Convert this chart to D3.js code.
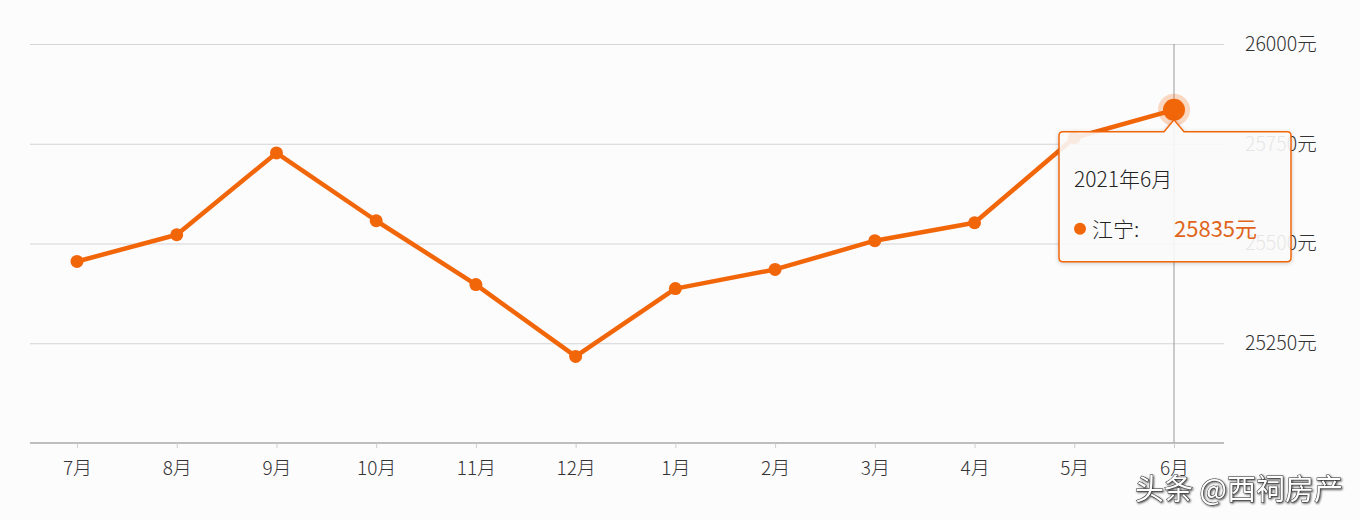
<html>
<head>
  <script src="https://d3js.org/d3.v7.min.js"></script>
  <style>
    body { margin: 0; background: #fdfcfd; font-family: "Noto Sans CJK SC", "Noto Sans", sans-serif; }
    .gridlines line { stroke: #d4d4d4; }
    .gridlines .domain { stroke: none; }
  </style>
</head>
<body>
  <svg id="chart" width="1360" height="520"></svg>
  <script>
    const months = ["7月", "8月", "9月", "10月", "11月", "12月", "1月", "2月", "3月", "4月", "5月", "6月"];
    const prices = [25455, 25522, 25727, 25557, 25397, 25217, 25387, 25435, 25507, 25552, 25765, 25835];
    const yTicks = [25250, 25500, 25750, 26000];

    const svg = d3.select("svg#chart");
    const margin = { top: 44, left: 30, right: 136, bottom: 77 };
    const chartWidth = 1360 - margin.left - margin.right;
    const chartHeight = 520 - margin.top - margin.bottom;

    const xScale = d3.scalePoint().domain(months).range([77 - margin.left, 1174 - margin.left]);
    const yScale = d3.scaleLinear().domain([25000, 26000]).range([chartHeight, 0]);

    const g = svg.append("g").attr("transform", `translate(${margin.left},${margin.top})`);

    // gridlines
    g.append("g").attr("class", "gridlines")
      .call(d3.axisLeft(yScale).tickValues(yTicks).tickSize(-chartWidth).tickFormat(""))
      .selectAll("line").attr("x1", 0).attr("x2", chartWidth);

    // right labels
    g.selectAll(".ylab").data(yTicks).enter().append("text")
      .attr("x", chartWidth + 21).attr("y", d => yScale(d)).attr("dy", "0.35em")
      .attr("fill", "#333").style("font-size", "19.5px").style("font-weight", 300).text(d => d + "元");

    // bottom axis
    const bottom = g.append("g").attr("transform", `translate(0,${chartHeight})`)
      .call(d3.axisBottom(xScale).tickSize(5).tickPadding(14));
    bottom.select(".domain").attr("stroke", "#aaa").attr("stroke-width", 1.5)
      .attr("d", `M0,0H${chartWidth}`);
    bottom.selectAll(".tick line").attr("stroke", "#ccc");
    bottom.selectAll(".tick text").attr("fill", "#333").style("font-size", "19px").style("font-weight", 300)
      .style("font-family", "'Noto Sans CJK SC', sans-serif");

    // hover vertical line
    const last = months[months.length - 1];
    g.append("line").attr("x1", xScale(last)).attr("x2", xScale(last))
      .attr("y1", 0).attr("y2", chartHeight).attr("stroke", "#999").attr("stroke-width", 1);

    const color = "#f2660a";
    const line = d3.line().x((d, i) => xScale(months[i])).y(d => yScale(d));
    g.append("path").datum(prices).attr("d", line).attr("fill", "none")
      .attr("stroke", color).attr("stroke-width", 4.5).attr("stroke-linejoin", "round");

    g.selectAll(".pt").data(prices).enter().append("circle")
      .attr("cx", (d, i) => xScale(months[i])).attr("cy", d => yScale(d))
      .attr("r", 6.5).attr("fill", color);

    const lx = xScale(last), ly = yScale(prices[prices.length - 1]);
    g.append("circle").attr("cx", lx).attr("cy", ly).attr("r", 16).attr("fill", color).attr("opacity", 0.25);
    g.append("circle").attr("cx", lx).attr("cy", ly).attr("r", 11).attr("fill", color);

    // tooltip
    const tx = 1059 - margin.left, ty = ly + 22, tw = 232, th = 130;
    const ax = lx;
    g.append("path")
      .attr("d", `M${tx + 4},${ty} H${ax - 10} L${ax},${ty - 12} L${ax + 10},${ty} H${tx + tw - 4} Q${tx + tw},${ty} ${tx + tw},${ty + 4} V${ty + th - 4} Q${tx + tw},${ty + th} ${tx + tw - 4},${ty + th} H${tx + 4} Q${tx},${ty + th} ${tx},${ty + th - 4} V${ty + 4} Q${tx},${ty} ${tx + 4},${ty} Z`)
      .attr("fill", "rgba(255,255,255,0.88)").attr("stroke", color).attr("stroke-width", 1.5)
      .style("filter", "drop-shadow(0 1px 2px rgba(0,0,0,0.2))");
    g.append("text").attr("x", tx + 15).attr("y", ty + 55).attr("fill", "#222")
      .style("font-size", "21px").style("font-weight", 300).text("2021年6月");
    g.append("circle").attr("cx", tx + 21).attr("cy", ty + 97).attr("r", 6).attr("fill", color);
    g.append("text").attr("x", tx + 33).attr("y", ty + 105).attr("fill", "#222")
      .style("font-size", "21px").style("font-weight", 300).text("江宁:");
    g.append("text").attr("x", tx + 115).attr("y", ty + 105).attr("fill", "#e0651b")
      .style("font-size", "22px").text(prices[prices.length - 1] + "元");

    // watermark
    svg.append("text").attr("x", 1343).attr("y", 500).attr("text-anchor", "end")
      .attr("fill", "#fff").attr("stroke", "#333").attr("stroke-width", 1)
      .style("font-size", "29px").style("paint-order", "stroke")
      .style("filter", "drop-shadow(1px 1px 1px rgba(0,0,0,0.7))")
      .text("头条 @西祠房产");
  </script>
</body>
</html>
